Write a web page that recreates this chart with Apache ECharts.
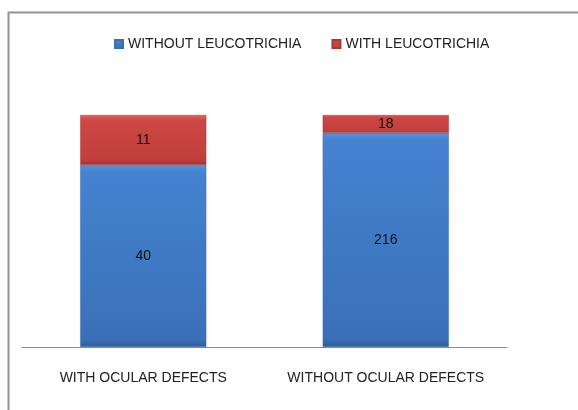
<!DOCTYPE html>
<html>
<head>
<meta charset="utf-8">
<script src="https://cdn.jsdelivr.net/npm/echarts@6/dist/echarts.min.js"></script>
<style>
  html, body { margin: 0; padding: 0; background: #fff; }
  #chart { width: 578px; height: 410px; }
</style>
</head>
<body>
<div id="chart"></div>
<script>
// Patient groups and leucotrichia counts
const categories = ['WITH OCULAR DEFECTS', 'WITHOUT OCULAR DEFECTS'];
const withoutLeucotrichia = [40, 216];
const withLeucotrichia = [11, 18];
const seriesNames = ['WITHOUT LEUCOTRICHIA', 'WITH LEUCOTRICHIA'];

// Each column is stacked to 100% of its group total
const totals = categories.map((_, i) => withoutLeucotrichia[i] + withLeucotrichia[i]);
const share = (arr) => arr.map((v, i) => ({ value: v / totals[i] * 100, count: v }));

const font = '"Liberation Sans", Arial, sans-serif';

const blueFill = new echarts.graphic.LinearGradient(0, 0, 0, 1, [
  { offset: 0, color: '#5591dc' },
  { offset: 0.04, color: '#4582d0' },
  { offset: 0.96, color: '#3a70b8' },
  { offset: 1, color: '#2e5c99' }
]);
const redFill = new echarts.graphic.LinearGradient(0, 0, 0, 1, [
  { offset: 0, color: '#e06461' },
  { offset: 0.1, color: '#cf4744' },
  { offset: 0.9, color: '#c03f3c' },
  { offset: 1, color: '#9d3230' }
]);

const chart = echarts.init(document.getElementById('chart'), null, { renderer: 'canvas' });
chart.setOption({
  animation: false,
  backgroundColor: '#fff',
  graphic: [{
    type: 'rect',
    shape: { x: 8.5, y: 12.5, width: 620, height: 440 },
    style: { fill: 'none', stroke: '#939393', lineWidth: 2 },
    silent: true,
    z: -1
  }],
  legend: {
    top: 32,
    left: 109,
    itemGap: 30,
    itemWidth: 8,
    itemHeight: 8,
    icon: 'rect',
    textStyle: { fontFamily: font, fontSize: 14, color: '#222' },
    data: seriesNames
  },
  grid: { left: 22, right: 71, top: 115, bottom: 63, containLabel: false },
  xAxis: {
    type: 'category',
    data: categories,
    axisLine: { show: true, lineStyle: { color: '#8c8c8c', width: 1 } },
    axisTick: { show: false },
    axisLabel: {
      interval: 0,
      hideOverlap: false,
      fontFamily: font,
      fontSize: 14,
      color: '#222',
      margin: 24
    }
  },
  yAxis: {
    type: 'value',
    min: 0,
    max: 100,
    show: false,
    splitLine: { show: false }
  },
  series: [
    {
      name: seriesNames[0],
      type: 'bar',
      stack: 'total',
      barWidth: '52%',
      data: share(withoutLeucotrichia),
      itemStyle: { color: blueFill, borderColor: '#3a6fb0', borderWidth: 0.5 },
      label: {
        show: true,
        position: 'inside',
        fontFamily: font,
        fontSize: 14,
        color: '#111',
        formatter: (p) => String(p.data.count)
      }
    },
    {
      name: seriesNames[1],
      type: 'bar',
      stack: 'total',
      barWidth: '52%',
      data: share(withLeucotrichia),
      itemStyle: { color: redFill, borderColor: '#a63c3a', borderWidth: 0.5 },
      label: {
        show: true,
        position: 'inside',
        fontFamily: font,
        fontSize: 14,
        color: '#111',
        formatter: (p) => String(p.data.count)
      }
    }
  ]
});
</script>
</body>
</html>
